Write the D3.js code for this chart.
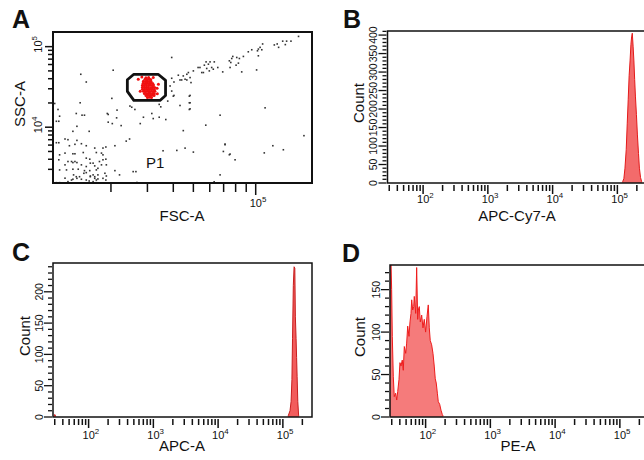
<!DOCTYPE html>
<html>
<head>
<meta charset="utf-8">
<script src="https://cdn.jsdelivr.net/npm/d3@7"></script>
<style>
  body { margin: 0; background: #fff; }
</style>
</head>
<body>
<div id="chart"></div>
<script>
"use strict";

// A: FSC-A / SSC-A dot plot (all events)
const fscValues = [
  161000, 141000, 148000, 135000, 139000, 127000, 123000, 129000, 108000, 105000,
  103000, 107000, 102000, 95700, 92100, 103000, 87200, 83400, 81000, 77500,
  76600, 74600, 75800, 82500, 80400, 85600, 75200, 101000, 63100, 60200,
  57600, 56500, 59100, 61300, 59700, 62400, 58000, 55900, 54900, 53800,
  52700, 50000, 65600, 69300, 47300, 46500, 44700, 45600, 43900, 43100,
  46500, 48200, 48700, 42300, 40300, 39300, 39300, 40300, 48200, 48200,
  43100, 48200, 111000,
  171000, 121000, 136000, 110000, 71100, 75200, 79500,
  40000, 47800, 47800, 47800, 34800, 31500, 28700, 32000, 34200, 36800,
  67300, 44700, 57400, 35700, 41600, 45600, 50000, 71100, 69800, 74600,
  67300, 63000,
  13600, 14500, 14900, 19200, 21400, 11200, 10900, 19400, 20300, 22400,
  27700, 13700, 13100, 15700, 12400, 12000, 10900, 11200, 13700, 24600,
  23700, 12600, 13400, 14400, 15200, 20900, 16700, 18300, 18900, 11300,
  12000, 13100, 13400, 14700, 17000, 18000, 18300, 15200, 15800, 12400,
  12900, 13100, 13400, 13700, 15900, 16400, 17600, 18300, 18900, 11200,
  12000, 14400, 15200, 16700, 18000, 19000, 20900, 11300, 12200, 13100,
  13900, 14900, 15800, 17000, 17300, 15200, 14800, 13200, 13600, 14100,
  15900, 15900, 16400, 17300, 16700, 18700, 19000, 12000, 12900, 13100,
  13700, 14400, 15200, 15700, 16700, 17000, 17300, 18300, 18900, 11300,
  12400, 10900, 16400, 17000, 25600, 26400, 22000,
  20500, 14300, 15200, 20200, 14200, 11100, 10700, 11300, 19400, 21300,
  24700, 26100, 26700,
  39300, 38600, 37600, 25200, 34200,
];
const sscValues = [
  134000, 117000, 117000, 117000, 106000, 108000, 105000, 98000, 108000, 98000,
  93300, 91500, 88800, 91500, 86300, 77000, 75600, 71300, 73400, 75600,
  71300, 66700, 63600, 62400, 58900, 48600, 55100, 51400, 64700, 64700,
  64700, 58900, 60600, 55100, 50000, 52500, 53600, 47700, 47700, 55100,
  55100, 50000, 55100, 48600, 47700, 45400, 43300, 39400, 38600, 38600,
  38600, 41300, 35800, 44200, 36400, 73400, 28100, 24800, 24800, 20100,
  18600, 16900, 17400,
  7850, 5890, 5250, 4800, 6180, 4640, 3940,
  24300, 24300, 20100, 16600, 17900, 14800, 13300, 12800, 13300, 12450,
  14100, 9070, 10600, 5100, 5150, 5500, 4910, 6060, 5000, 4550,
  2560, 2100,
  14800, 14100, 14100, 14800, 16300, 11850, 11850, 11550, 11090, 10470,
  11090, 10260, 8890, 8890, 7000, 7140, 6420, 6420, 6860, 7140,
  6720, 5890, 6130, 6240, 5890, 5890, 5510, 5510, 5680, 4540,
  4770, 4680, 4680, 4850, 4850, 4770, 4540, 4130, 4010, 3750,
  3750, 3640, 3750, 3640, 3580, 3580, 3750, 3940, 4010, 3940,
  3410, 3410, 3250, 3310, 3410, 3410, 2890, 2950, 2950, 3010,
  3010, 2890, 2890, 2950, 3090, 2730, 2680, 2560, 2430, 2430,
  2430, 2480, 2560, 2560, 2430, 2680, 2480, 2330, 2210, 2260,
  2320, 2260, 2210, 2150, 2320, 2210, 2280, 2320, 2210, 2050,
  2110, 2050, 2110, 2050, 2810, 2810, 2560,
  51000, 45400, 36400, 22800, 20100, 16600, 19700, 13700, 14400, 13070,
  18300, 16600, 2060,
  40500, 32500, 21100, 17700, 19200,
];

// events inside gate P1 (red)
const p1Fsc = [
  29500, 30400,
  29200, 29900, 30500, 31100,
  28700, 29400, 30000, 30700, 31200,
  28600, 29200, 29900, 30500, 31200, 31800,
  28400, 29000, 29700, 30400, 31000, 31700, 32100,
  28400, 29100, 29700, 30300, 31100, 31800, 32500,
  28400, 29000, 29700, 30400, 31000, 31700, 32400,
  28700, 29400, 30000, 30700, 31400, 32100, 32600,
  29000, 29700, 30400, 31000, 31800, 32400,
  29500, 30200, 30900, 31600, 32300,
  30000, 30700, 31400,
  27100, 33900, 33500, 28200, 32000, 27700, 33400,
];
const p1Ssc = [
  41000, 41300,
  39500, 39000, 39700, 39200,
  37300, 37000, 37400, 36900, 37200,
  35200, 34900, 35300, 34800, 35100, 35000,
  33200, 33000, 33300, 32900, 33200, 33000, 33400,
  31300, 31100, 31400, 31200, 31000, 31300, 31200,
  29600, 29400, 29700, 29300, 29600, 29500, 29400,
  27900, 27700, 28000, 27800, 27900, 27700, 28000,
  26300, 26100, 26400, 26200, 26300, 26100,
  24800, 24900, 24700, 24900, 24800,
  23400, 23500, 23300,
  39400, 34100, 26100, 42100, 41300, 27900, 30400,
];

// gate P1 polygon vertices
const gateFsc = [24000, 25800, 33800, 36700, 36700, 34500, 25800, 24000];
const gateSsc = [38800, 45400, 45400, 38200, 24800, 21500, 21500, 27900];

// B: APC-Cy7-A histogram
const apcCy7Channels = [116000, 121000, 126000, 131000, 137000, 142000, 147000, 152000, 157000, 162000, 166000, 170000, 175000, 180000, 185000, 190000, 197000, 204000, 212000, 219000, 228000, 237000, 243000];
const apcCy7Counts = [0, 4, 12, 40, 90, 160, 225, 290, 330, 375, 395, 405, 370, 330, 280, 235, 185, 130, 80, 40, 15, 4, 0];

// C: APC-A histogram
const apcChannels = [29, 30, 31.5, 118000, 121000, 129000, 134000, 138000, 141000, 145000, 149000, 153000, 156000, 160000, 163000, 166000, 170000, 175000, 178000];
const apcCounts = [0, 4, 0, 0, 2, 10, 25, 60, 125, 210, 240, 238, 160, 125, 95, 65, 25, 3, 0];

// D: PE-A histogram
const peChannels = [28.2, 29.2, 29.9, 30.6, 31.7, 32.8, 34.5, 35.8, 37.1, 38.8, 40.2, 41.7, 43.6, 45.2, 46.9, 49.3, 51.0, 52.9, 55.4, 57.4, 59.5, 61.0, 63.2, 65.5, 66.9, 70.3, 72.8, 75.5, 77.1, 79.9, 82.8, 87.0, 91.1, 95.4, 100, 105, 110, 114, 118, 124, 130, 136, 141, 146, 152, 157, 165, 173, 181, 190];
const peCounts = [185, 185, 150, 95, 48, 24, 28, 20, 30, 44, 64, 60, 67, 55, 83, 75, 87, 107, 95, 112, 122, 138, 126, 130, 142, 122, 176, 115, 126, 130, 112, 120, 105, 115, 100, 118, 132, 105, 90, 85, 75, 60, 45, 40, 28, 18, 15, 8, 3, 0];

// axis ranges and tick labels
const fscDomain = [10500, 187000];
const sscDomain = [2030, 152000];
const fluorDomain = [28.2, 281800];
const countLabelsB = [0, 50, 100, 150, 200, 250, 300, 350, 400];
const countLabelsC = [0, 50, 100, 150, 200];
const countLabelsD = [0, 50, 100, 150];

const font = "Arial, 'Liberation Sans', sans-serif";

const svg = d3
  .select("#chart")
  .append("svg")
  .attr("width", 644)
  .attr("height", 460);

svg.append("rect").attr("width", 644).attr("height", 460).attr("fill", "#fff");

const isDecade = (v) => Math.abs(Math.log10(v) - Math.round(Math.log10(v))) < 1e-6;

// "10" with superscript exponent
const powLabel = function (sel, x, y, v, size) {
  const t = sel
    .append("text")
    .attr("x", x)
    .attr("y", y)
    .attr("font-family", font)
    .attr("font-size", size)
    .attr("fill", "#111");
  t.append("tspan").text("10");
  t.append("tspan")
    .attr("dy", -size * 0.45)
    .attr("font-size", size * 0.72)
    .text(Math.round(Math.log10(v)));
};

const addText = function (sel, x, y, txt, size, opts) {
  const o = opts || {};
  return sel
    .append("text")
    .attr("transform", `translate(${x},${y})` + (o.rotate ? " rotate(-90)" : ""))
    .attr("text-anchor", o.anchor || "middle")
    .attr("font-family", font)
    .attr("font-size", size)
    .attr("font-weight", o.bold ? "bold" : "normal")
    .attr("fill", "#111")
    .text(txt);
};

const frame = function (g, b, w) {
  g.append("rect")
    .attr("x", b.x)
    .attr("y", b.y)
    .attr("width", b.w)
    .attr("height", b.h)
    .attr("fill", "none")
    .attr("stroke", "#111")
    .attr("stroke-width", w);
};

//----- panel A
const boxA = { x: 53, y: 32, w: 259, h: 151 };
const xA = d3.scaleLog().domain(fscDomain).range([boxA.x, boxA.x + boxA.w]);
const yA = d3.scaleLog().domain(sscDomain).range([boxA.y + boxA.h, boxA.y]);
const gA = svg.append("g");

gA.append("clipPath").attr("id", "clipA").append("rect")
  .attr("x", boxA.x).attr("y", boxA.y).attr("width", boxA.w).attr("height", boxA.h);

const events = fscValues.map((f, i) => ({ f: f, s: sscValues[i] }));
gA.append("g")
  .attr("clip-path", "url(#clipA)")
  .selectAll("rect")
  .data(events)
  .enter()
  .append("rect")
  .attr("x", (d) => xA(d.f) - 0.8)
  .attr("y", (d) => yA(d.s) - 0.8)
  .attr("width", 1.6)
  .attr("height", 1.6)
  .attr("fill", "#333");

const p1Events = p1Fsc.map((f, i) => ({ f: f, s: p1Ssc[i] }));
gA.append("g")
  .selectAll("circle")
  .data(p1Events)
  .enter()
  .append("circle")
  .attr("cx", (d) => xA(d.f))
  .attr("cy", (d) => yA(d.s))
  .attr("r", 1.5)
  .attr("fill", "#f01010");

const gate = gateFsc.map((f, i) => ({ f: f, s: gateSsc[i] }));
gA.append("path")
  .datum(gate)
  .attr("d", d3.line().x((d) => xA(d.f)).y((d) => yA(d.s)).curve(d3.curveLinearClosed))
  .attr("fill", "none")
  .attr("stroke", "#111")
  .attr("stroke-width", 2.8)
  .attr("stroke-linejoin", "round");

addText(gA, 146, 168, "P1", 15, { anchor: "start" });

frame(gA, boxA, 2);

// x ticks (FSC)
const bottomA = boxA.y + boxA.h;
gA.selectAll("line.xa")
  .data(xA.ticks())
  .enter()
  .append("line")
  .attr("class", "xa")
  .attr("x1", (d) => xA(d))
  .attr("x2", (d) => xA(d))
  .attr("y1", bottomA + 1)
  .attr("y2", (d) => bottomA + (isDecade(d) ? 12 : 9))
  .attr("stroke", "#111")
  .attr("stroke-width", 1.5);
xA.ticks().filter(isDecade).forEach((v) => powLabel(gA, xA(v) - 6, bottomA + 24, v, 11));

// y ticks (SSC)
gA.selectAll("line.ya")
  .data(yA.ticks())
  .enter()
  .append("line")
  .attr("class", "ya")
  .attr("x1", boxA.x - 1)
  .attr("x2", (d) => boxA.x - (isDecade(d) ? 8 : 5))
  .attr("y1", (d) => yA(d))
  .attr("y2", (d) => yA(d))
  .attr("stroke", "#111")
  .attr("stroke-width", 1.5);
yA.ticks().filter(isDecade).forEach((v) => {
  const gl = gA.append("g").attr("transform", `translate(42,${yA(v)}) rotate(-90)`);
  powLabel(gl, -6, 0, v, 11);
});

addText(gA, 182, 221, "FSC-A", 15);
addText(gA, 25, 104, "SSC-A", 15, { rotate: true });
addText(svg, 12, 28, "A", 25, { anchor: "start", bold: true });

//----- histogram panels
const drawHist = function (p) {
  const b = p.box;
  const x = d3.scaleLog().domain(fluorDomain).range([b.x, b.x + b.w]);
  const y = d3.scaleLinear().domain([0, p.yMax]).range([b.y + b.h, b.y]);
  const g = svg.append("g");

  g.append("clipPath").attr("id", p.id).append("rect")
    .attr("x", b.x).attr("y", b.y).attr("width", b.w).attr("height", b.h);
  // outline clip stops just above the baseline
  g.append("clipPath").attr("id", p.id + "s").append("rect")
    .attr("x", b.x).attr("y", b.y).attr("width", b.w).attr("height", b.h - 1);

  const bins = p.channels.map((c, i) => ({ c: c, n: p.counts[i] }));
  const area = d3
    .area()
    .x((d) => x(d.c))
    .y0(y(0))
    .y1((d) => y(d.n));
  g.append("path")
    .datum(bins)
    .attr("d", area)
    .attr("fill", p.fill)
    .attr("clip-path", `url(#${p.id})`);
  g.append("path")
    .datum(bins)
    .attr("d", d3.line().x((d) => x(d.c)).y((d) => y(d.n)))
    .attr("fill", "none")
    .attr("stroke", p.stroke)
    .attr("stroke-width", 1)
    .attr("clip-path", `url(#${p.id}s)`);

  frame(g, b, 1.5);

  // log x ticks
  const bottom = b.y + b.h;
  g.selectAll("line.xt")
    .data(x.ticks())
    .enter()
    .append("line")
    .attr("class", "xt")
    .attr("x1", (d) => x(d))
    .attr("x2", (d) => x(d))
    .attr("y1", bottom + 2)
    .attr("y2", (d) => bottom + (isDecade(d) ? 11 : 8))
    .attr("stroke", "#111")
    .attr("stroke-width", 1.5);
  x.ticks().filter(isDecade).forEach((v) => powLabel(g, x(v) - 6, bottom + p.labelDy, v, 11));

  // count ticks, minor every 10
  g.selectAll("line.yt")
    .data(d3.range(0, p.yMax, 10))
    .enter()
    .append("line")
    .attr("class", "yt")
    .attr("x1", b.x - 1)
    .attr("x2", (d) => b.x - (d % 50 === 0 ? 9 : 5))
    .attr("y1", (d) => y(d))
    .attr("y2", (d) => y(d))
    .attr("stroke", "#111")
    .attr("stroke-width", 1.3);
  p.labels.forEach((v) => addText(g, b.x - 10.5, y(v), v, 10.5, { rotate: true }));

  addText(g, p.xTitle[0], p.xTitle[1], p.xName, 15);
  addText(g, p.yTitle[0], p.yTitle[1], "Count", 15, { rotate: true });
  addText(svg, p.letter[0], p.letter[1], p.letter[2], 25, { anchor: "start", bold: true });
};

drawHist({
  id: "clipB",
  box: { x: 387.5, y: 31, w: 259, h: 152 },
  channels: apcCy7Channels,
  counts: apcCy7Counts,
  yMax: 411,
  labels: countLabelsB,
  fill: "#f36b6b",
  stroke: "#e31a1a",
  labelDy: 20,
  xName: "APC-Cy7-A",
  xTitle: [517, 221],
  yTitle: [364, 103],
  letter: [343, 28, "B"],
});

drawHist({
  id: "clipC",
  box: { x: 53, y: 263, w: 259, h: 154 },
  channels: apcChannels,
  counts: apcCounts,
  yMax: 246,
  labels: countLabelsC,
  fill: "#f25c5c",
  stroke: "#c81e1e",
  labelDy: 22,
  xName: "APC-A",
  xTitle: [182, 451],
  yTitle: [30, 336],
  letter: [12, 261, "C"],
});

drawHist({
  id: "clipD",
  box: { x: 390, y: 265, w: 259, h: 152 },
  channels: peChannels,
  counts: peCounts,
  yMax: 179,
  labels: countLabelsD,
  fill: "#f57b7b",
  stroke: "#ee1c1c",
  labelDy: 22,
  xName: "PE-A",
  xTitle: [518, 451],
  yTitle: [365, 337],
  letter: [342, 262, "D"],
});
</script>
</body>
</html>
